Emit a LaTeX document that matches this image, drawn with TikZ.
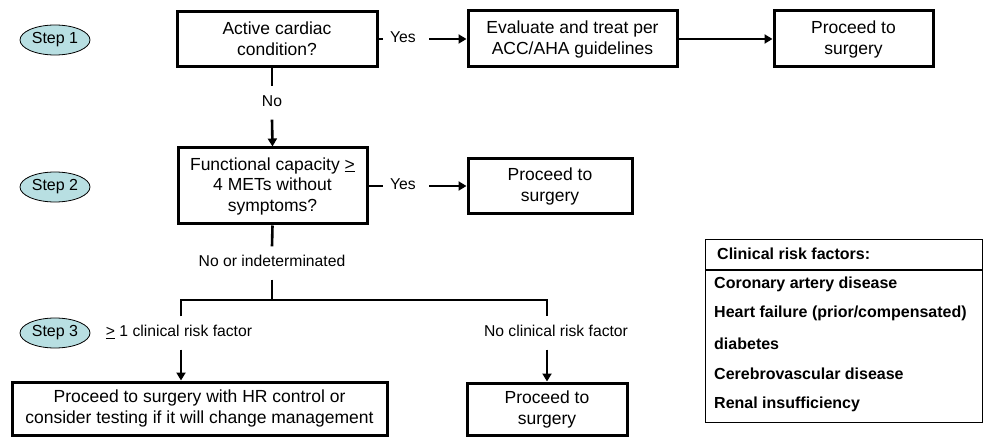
\documentclass[tikz,border=0pt]{standalone}
\usepackage{fontspec}
\setmainfont{Liberation Sans}
\usetikzlibrary{arrows.meta,shapes.geometric}
\definecolor{steptint}{HTML}{B8DFE2}
\begin{document}
\begin{tikzpicture}[x=1pt,y=-1pt,
  every node/.style={font=\fontsize{16}{20.5}\selectfont},
  stepoval/.style={ellipse,draw,line width=0.8pt,fill=steptint,minimum width=70pt,minimum height=30pt,inner sep=0pt},
  box/.style={draw,line width=3pt,align=center,inner sep=0pt,font=\fontsize{17.5}{21}\selectfont},
  lbl/.style={inner xsep=0pt,inner ysep=9pt,text height=11.5pt,text depth=3.5pt,font=\fontsize{15.7}{20}\selectfont},
  conn/.style={line width=2.6pt},
  arrow/.style={conn,-{Triangle[length=8pt,width=9pt]}},
  rowtxt/.style={anchor=west,inner sep=0pt,font=\fontsize{16}{20}\selectfont\bfseries}
]
\useasboundingbox (0,0) rectangle (988,438);

% step ovals
\node[stepoval] (s1) at (55,40) {Step 1};
\node[stepoval] (s2) at (55,187) {Step 2};
\node[stepoval] (s3) at (55,333) {Step 3};

% boxes
\node[box,minimum width=200pt,minimum height=55pt] (b1) at (277,39) {Active cardiac\\condition?};
\node[box,minimum width=209pt,minimum height=56pt] (b2) at (572.5,39) {Evaluate and treat per\\ACC/AHA guidelines};
\node[box,minimum width=159pt,minimum height=56pt] (b3) at (853.5,39) {Proceed to\\surgery};
\node[box,minimum width=189pt,minimum height=76pt,font=\fontsize{17.5}{20.5}\selectfont] (b4) at (272.5,186) {Functional capacity \underline{>}\\4 METs without\\symptoms?};
\node[box,minimum width=164pt,minimum height=55pt] (b5) at (550,186) {Proceed to\\surgery};
\node[box,minimum width=375pt,minimum height=53pt] (b6) at (199.5,408.5) {Proceed to surgery with HR control or\\consider testing if it will change management};
\node[box,minimum width=160pt,minimum height=52pt] (b7) at (547,409) {Proceed to\\surgery};

% labels
\node[lbl] (yes1) at (403,39) {Yes};
\node[lbl] (no1) at (272,103) {No};
\node[lbl] (yes2) at (403,186) {Yes};
\node[lbl] (no2) at (272,263) {No or indeterminated};
\node[lbl] (l1) at (179,333) {\underline{>} 1 clinical risk factor};
\node[lbl] (l2) at (556,333) {No clinical risk factor};

\coordinate (j) at (272,300);
\coordinate (jl) at (181,300);
\coordinate (jr) at (547,300);

% connectors row 1
\draw[conn] (b1.east) -- ([xshift=-7pt]yes1.west);
\draw[arrow] ([xshift=13pt]yes1.east) -- (b2.west);
\draw[arrow] (b2.east) -- (b3.west);
% step 1 -> step 2
\draw[conn] (no1 |- b1.south) -- (no1.north);
\draw[arrow] (no1.south) -- (b4.north);
% row 2
\draw[conn] (b4.east) -- ([xshift=-7pt]yes2.west);
\draw[arrow] ([xshift=13pt]yes2.east) -- (b5.west);
% step 2 -> step 3
\draw[conn] (b4.south) -- (no2.north);
\draw[conn] (no2.south) -- (j);
\draw[conn] (jl |- l1.north) -- (jl) -- (jr) -- (jr |- l2.north);
\draw[arrow] (jl |- l1.south) -- (jl |- b6.north);
\draw[arrow] (jr |- l2.south) -- (b7.north);

% clinical risk factors table
\node[draw,line width=1.2pt,minimum width=277pt,minimum height=183pt,inner sep=0pt,anchor=north west] (tbl) at (705,239) {};
\coordinate (sepl) at (705,270);
\coordinate (sepr) at (982,270);
\draw[line width=1.2pt] (sepl) -- (sepr);
\node[rowtxt] (th) at (717,254) {Clinical risk factors:};
\node[rowtxt] (r1) at (714,284) {Coronary artery disease};
\node[rowtxt] (r2) at (714,313.5) {Heart failure (prior/compensated)};
\node[rowtxt] (r3) at (714,343.5) {diabetes};
\node[rowtxt] (r4) at (714,374) {Cerebrovascular disease};
\node[rowtxt] (r5) at (714,404) {Renal insufficiency};
\end{tikzpicture}
\end{document}
